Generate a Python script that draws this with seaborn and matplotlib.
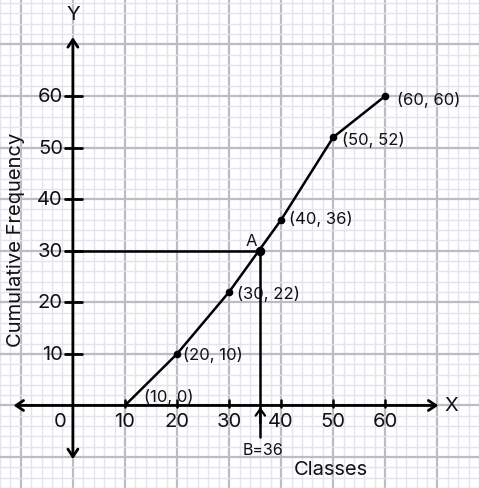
import matplotlib
matplotlib.use("Agg")
import matplotlib.pyplot as plt
import seaborn as sns
import numpy as np
import pandas as pd

# Data
classes = [10, 20, 30, 40, 50, 60]
cum_freq = [0, 10, 22, 36, 52, 60]
point_labels = ["(10, 0)", "(20, 10)", "(30, 22)", "(40, 36)", "(50, 52)", "(60, 60)"]
x_ticks = [10, 20, 30, 40, 50, 60]
y_ticks = [10, 20, 30, 40, 50, 60]
median_pos = 36
half_n = 30

sns.set_theme(style="white")
plt.rcParams['font.family'] = ['Inter', 'DejaVu Sans']

fig = plt.figure(figsize=(4.79, 4.89), dpi=100)
ax = fig.add_axes([0, 0, 1, 1])
ax.set_xlim(-13.6, 78.0)
ax.set_ylim(-15.6, 78.8)

# graph paper grid
ax.set_xticks(np.arange(-10, 80, 10))
ax.set_yticks(np.arange(-10, 80, 10))
ax.set_xticks(np.arange(-14, 80, 2), minor=True)
ax.set_yticks(np.arange(-16, 80, 2), minor=True)
ax.grid(which="minor", color="#e4e4ee", linewidth=1.0, zorder=0)
ax.grid(which="major", color="#bcbcc5", linewidth=1.6, zorder=0)
ax.tick_params(which="both", length=0, labelbottom=False, labelleft=False)
for s in ax.spines.values():
    s.set_visible(False)
ax.set_axisbelow(True)

txt = "#111111"
fw = "normal"

# axes with arrows
arrow_kw = dict(arrowstyle="<->,head_length=0.45,head_width=0.3", color="black", lw=2.0,
                shrinkA=0, shrinkB=0)
ax.annotate("", xy=(70.2, 0), xytext=(-11.4, 0), arrowprops=arrow_kw, zorder=3)
ax.annotate("", xy=(0, 71.4), xytext=(0, -10.4), arrowprops=arrow_kw, zorder=3)

# tick marks
for t in y_ticks:
    ax.plot([-1.5, 1.8], [t, t], color="black", lw=2.0, zorder=3)
    ax.text(-1.9, t, str(t), ha="right", va="center", fontsize=14.5, color=txt, fontweight=fw)
for t in x_ticks:
    ax.plot([t, t], [-0.3, 1.0], color="black", lw=1.8, zorder=3)
    ax.text(t, -3.0, str(t), ha="center", va="center", fontsize=14.5, color=txt, fontweight=fw)
ax.text(-2.4, -3.0, "0", ha="center", va="center", fontsize=14.5, color=txt, fontweight=fw)

# ogive
df = pd.DataFrame({"Classes": classes, "Cumulative Frequency": cum_freq})
sns.lineplot(data=df, x="Classes", y="Cumulative Frequency", ax=ax, color="black",
             lw=1.8, zorder=4, sort=False)
sns.scatterplot(data=df.iloc[1:], x="Classes", y="Cumulative Frequency", ax=ax, color="black",
                s=30, zorder=5, edgecolor="black", linewidth=0)
ax.set_xlabel("")
ax.set_ylabel("")

offsets = {0: (3.6, 1.9), 1: (1.2, 0.0), 2: (1.5, -0.2), 3: (1.5, 0.3), 4: (1.6, -0.3), 5: (2.2, -0.5)}
for i, (x, y, lab) in enumerate(zip(classes, cum_freq, point_labels)):
    dx, dy = offsets[i]
    ax.text(x + dx, y + dy, lab, ha="left", va="center", fontsize=12, color=txt,
            fontweight=fw, zorder=6)

# median construction
ax.plot([0, median_pos], [half_n, half_n], color="black", lw=1.8, zorder=4)
ax.scatter([median_pos], [half_n], color="black", s=34, zorder=5)
ax.plot([median_pos, median_pos], [half_n, -6.2], color="black", lw=1.8, zorder=4)
ax.annotate("", xy=(median_pos, -0.3), xytext=(median_pos, -3.5),
            arrowprops=dict(arrowstyle="->,head_length=0.4,head_width=0.28", color="black",
                            lw=1.6, shrinkA=0, shrinkB=0), zorder=5)
ax.text(34.2, 32.0, "A", ha="center", va="center", fontsize=12, color=txt, fontweight=fw)
ax.text(36.5, -8.5, "B=36", ha="center", va="center", fontsize=11.5, color=txt, fontweight=fw)

# axis names
ax.text(0, 75.9, "Y", ha="center", va="center", fontsize=14.5, color=txt, fontweight=fw)
ax.text(72.6, 0, "X", ha="center", va="center", fontsize=14.5, color=txt, fontweight=fw)
ax.text(49.5, -12.4, "Classes", ha="center", va="center", fontsize=14.5, color=txt, fontweight=fw)
ax.text(-11.0, 32.4, "Cumulative Frequency", ha="center", va="center", fontsize=14.5,
        rotation=90, color=txt, fontweight=fw)

fig.savefig("out.png", dpi=100)
